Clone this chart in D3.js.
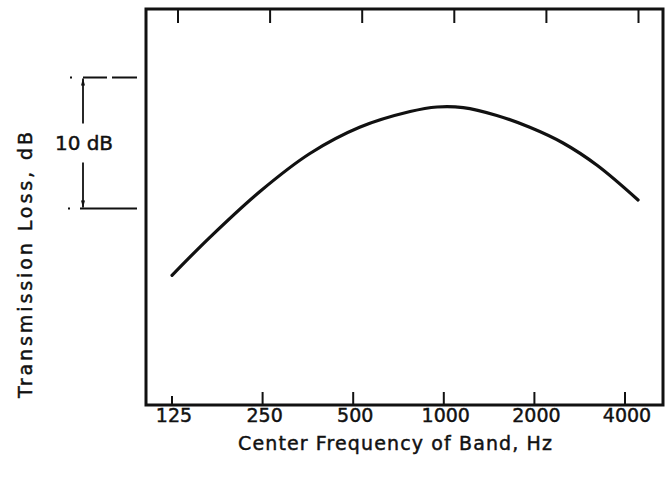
<html>
<head>
<meta charset="utf-8">
<script src="https://cdn.jsdelivr.net/npm/d3@7"></script>
<style>
  body { margin: 0; background: #fff; }
  text { font-family: "DejaVu Sans", sans-serif; fill: #111; stroke: #111; stroke-width: 0.45px; }
</style>
</head>
<body>
<div id="chart"></div>
<script>
    // values (dB is relative, axis is unlabelled)
    var freqs = [125, 167, 245, 359, 525, 773, 950, 1160, 1500, 1930, 2490, 3230, 4420];
    var loss = [14.9, 17.8, 21.3, 24.2, 26.2, 27.4, 27.75, 27.7, 27.1, 26.2, 25.0, 23.3, 20.65];
    var tickFreqs = [125, 250, 500, 1000, 2000, 4000];
    var refLevels = [30, 20];

    var width = 665, height = 480;
    var frame = {left: 146, right: 663, top: 9, bottom: 405};

    var svg = d3.select("#chart").append("svg")
        .attr("width", width)
        .attr("height", height);

    var x = d3.scaleLog().base(2)
        .domain([125, 4000])
        .range([172, 625]);

    var y = d3.scaleLinear()
        .domain([5, 35])
        .range([frame.bottom, 12]);

    // frame
    svg.append("rect")
        .attr("x", frame.left)
        .attr("y", frame.top)
        .attr("width", frame.right - frame.left)
        .attr("height", frame.bottom - frame.top)
        .attr("fill", "none")
        .attr("stroke", "#111")
        .attr("stroke-width", 3);

    // ticks, bottom pointing up, top pointing down
    svg.append("g").selectAll("line")
        .data(tickFreqs).enter()
        .append("line")
        .attr("x1", function (d) { return x(d); })
        .attr("x2", function (d) { return x(d); })
        .attr("y1", frame.bottom)
        .attr("y2", function (d, i) { return frame.bottom - (i === 0 ? 9 : 13); })
        .attr("stroke", "#111")
        .attr("stroke-width", 2);

    svg.append("g").selectAll("line")
        .data(tickFreqs).enter()
        .append("line")
        .attr("x1", function (d, i) { return x(d) + 6 + i * 1.5; })
        .attr("x2", function (d, i) { return x(d) + 6 + i * 1.5; })
        .attr("y1", frame.top)
        .attr("y2", frame.top + 14)
        .attr("stroke", "#111")
        .attr("stroke-width", 2);

    svg.append("g").selectAll("text")
        .data(tickFreqs).enter()
        .append("text")
        .attr("x", function (d) { return x(d) + 2; })
        .attr("y", 422)
        .attr("text-anchor", "middle")
        .attr("font-family", "Liberation Sans, sans-serif")
        .attr("font-size", "19px")
        .text(function (d) { return d; });

    // x title
    svg.append("text")
        .attr("x", 395)
        .attr("y", 450)
        .attr("text-anchor", "middle")
        .attr("font-size", "19px")
        .attr("textLength", 314)
        .attr("lengthAdjust", "spacing")
        .text("Center Frequency of Band, Hz");

    // y title
    svg.append("text")
        .attr("transform", "translate(32,265) rotate(-90)")
        .attr("text-anchor", "middle")
        .attr("font-size", "19px")
        .attr("textLength", 266)
        .attr("lengthAdjust", "spacing")
        .text("Transmission Loss, dB");

    // 10 dB reference bracket
    var yHi = y(refLevels[0]), yLo = y(refLevels[1]);
    svg.append("line")
        .attr("x1", 70).attr("x2", 137)
        .attr("y1", yHi).attr("y2", yHi)
        .attr("stroke", "#111").attr("stroke-width", 2)
        .attr("stroke-dasharray", "2,11,24,5,26");
    svg.append("line")
        .attr("x1", 68).attr("x2", 137)
        .attr("y1", yLo).attr("y2", yLo)
        .attr("stroke", "#111").attr("stroke-width", 2)
        .attr("stroke-dasharray", "2,10,60");

    svg.append("line")
        .attr("x1", 83).attr("x2", 83)
        .attr("y1", yHi + 1).attr("y2", yHi + 46)
        .attr("stroke", "#111").attr("stroke-width", 1.8);
    svg.append("line")
        .attr("x1", 83).attr("x2", 83)
        .attr("y1", yLo - 46).attr("y2", yLo - 1)
        .attr("stroke", "#111").attr("stroke-width", 1.8);
    svg.append("path")
        .attr("d", "M81," + (yHi + 8) + "L83," + (yHi + 1) + "L85," + (yHi + 8) + "Z")
        .attr("fill", "#111");
    svg.append("path")
        .attr("d", "M81," + (yLo - 8) + "L83," + (yLo - 1) + "L85," + (yLo - 8) + "Z")
        .attr("fill", "#111");

    svg.append("text")
        .attr("x", 55)
        .attr("y", (yHi + yLo) / 2 + 7)
        .attr("font-size", "20px")
        .attr("textLength", 58)
        .attr("lengthAdjust", "spacing")
        .text("10 dB");

    // curve
    var line = d3.line()
        .x(function (d, i) { return x(freqs[i]); })
        .y(function (d) { return y(d); })
        .curve(d3.curveCatmullRom);

    svg.append("path")
        .datum(loss)
        .attr("d", line)
        .attr("fill", "none")
        .attr("stroke", "#111")
        .attr("stroke-width", 3.2)
        .attr("stroke-linecap", "round");
</script>
</body>
</html>
